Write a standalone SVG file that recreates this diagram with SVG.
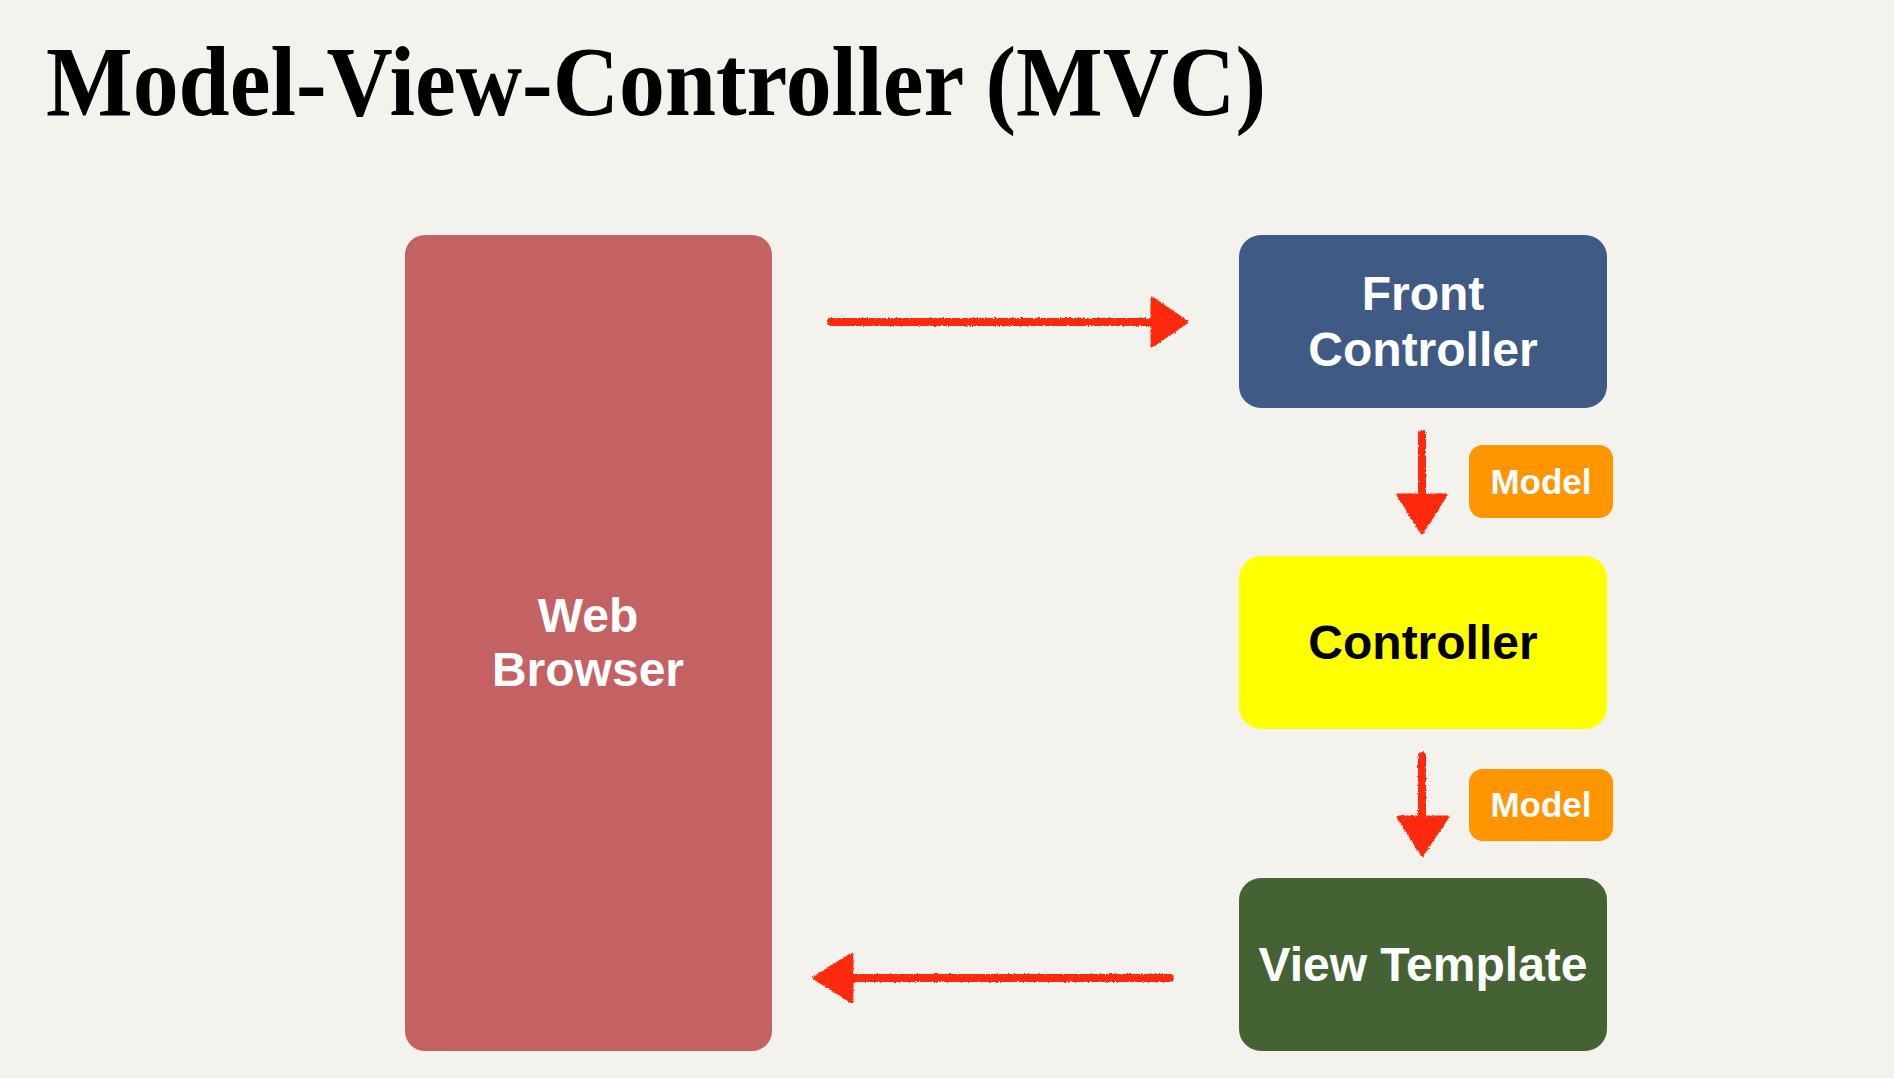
<svg xmlns="http://www.w3.org/2000/svg" width="1894" height="1078" viewBox="0 0 1894 1078">
  <defs>
    <style>
      .lbl { font-family: "Liberation Sans", Arial, Helvetica, sans-serif; font-weight: bold; text-anchor: middle; }
      .white { fill: #ffffff; }
      .black { fill: #000000; }
      .arrow { fill: none; stroke: #ff2a0a; stroke-width: 8; stroke-linecap: round; }
      .head { fill: #ff2a0a; stroke: #ff2a0a; stroke-width: 3; stroke-linejoin: round; }
    </style>
    <filter id="crayon" x="-10%" y="-10%" width="120%" height="120%">
      <feTurbulence type="fractalNoise" baseFrequency="0.6" numOctaves="2" seed="3" result="n"/>
      <feDisplacementMap in="SourceGraphic" in2="n" scale="3" xChannelSelector="R" yChannelSelector="G"/>
    </filter>
  </defs>

  <rect x="0" y="0" width="1894" height="1078" fill="#f4f2ed"/>

  <text id="title" x="46" y="115" font-family="'Liberation Serif', 'Times New Roman', serif" font-weight="bold" font-size="100" fill="#000" textLength="1220" lengthAdjust="spacingAndGlyphs">Model-View-Controller (MVC)</text>

  <g id="web-browser">
    <rect x="405" y="235" width="367" height="816" rx="20" fill="#c46162"/>
    <text class="lbl white" x="588" y="632" font-size="48">Web</text>
    <text class="lbl white" x="588" y="686" font-size="48">Browser</text>
  </g>

  <g id="front-controller">
    <rect x="1239" y="235" width="368" height="173" rx="22" fill="#3f5b85"/>
    <text class="lbl white" x="1423" y="310" font-size="48">Front</text>
    <text class="lbl white" x="1423" y="366" font-size="48">Controller</text>
  </g>

  <g id="controller">
    <rect x="1239" y="556" width="368" height="173" rx="22" fill="#ffff00"/>
    <text class="lbl black" x="1423" y="659" font-size="48">Controller</text>
  </g>

  <g id="view-template">
    <rect x="1239" y="878" width="368" height="173" rx="22" fill="#446234"/>
    <text class="lbl white" x="1423" y="981" font-size="48">View Template</text>
  </g>

  <g id="model-1">
    <rect x="1469" y="445" width="144" height="73" rx="14" fill="#ff9500"/>
    <text class="lbl white" x="1541" y="494" font-size="35">Model</text>
  </g>

  <g id="model-2">
    <rect x="1469" y="769" width="144" height="72" rx="14" fill="#ff9500"/>
    <text class="lbl white" x="1541" y="817" font-size="35">Model</text>
  </g>

  <g id="connectors" filter="url(#crayon)">
    <!-- Web Browser -> Front Controller -->
    <line class="arrow" x1="831" y1="322" x2="1160" y2="322"/>
    <polygon class="head" points="1152,298 1187,322 1152,346"/>
    <!-- Front Controller -> Controller -->
    <line class="arrow" x1="1422" y1="434" x2="1422" y2="500"/>
    <polygon class="head" points="1398,495 1446,495 1422,533"/>
    <!-- Controller -> View Template -->
    <line class="arrow" x1="1422" y1="756" x2="1422" y2="822"/>
    <polygon class="head" points="1398,817 1448,817 1422,855"/>
    <!-- View Template -> Web Browser -->
    <line class="arrow" x1="1170" y1="978" x2="845" y2="978"/>
    <polygon class="head" points="852,954 814,978 852,1002"/>
  </g>
</svg>
